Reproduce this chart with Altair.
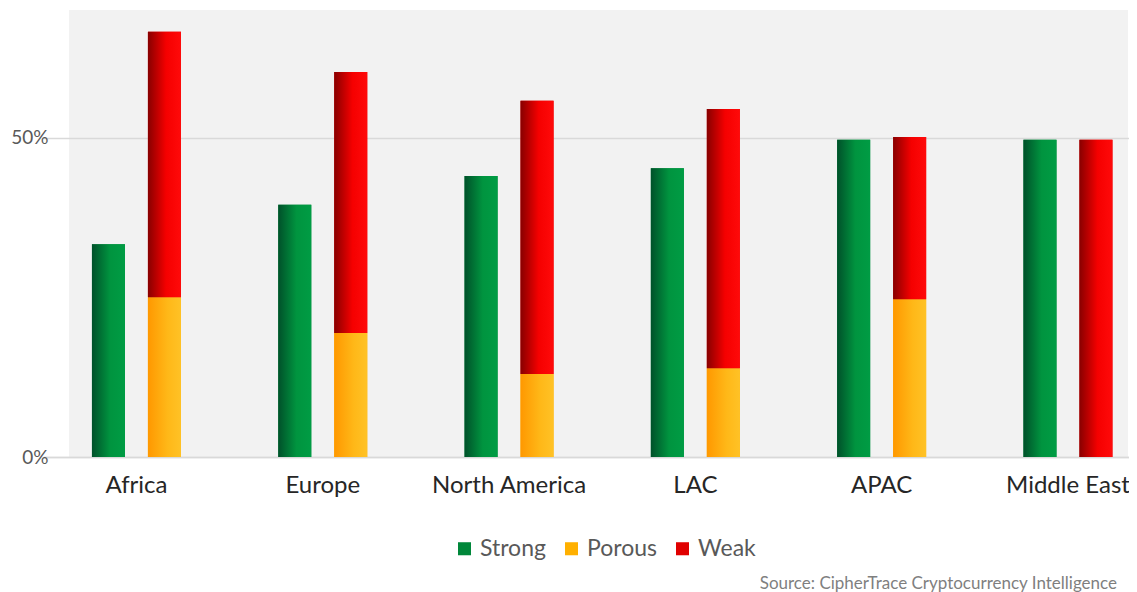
import altair as alt
import pandas as pd

regions = ["Africa", "Europe", "North America", "LAC", "APAC", "Middle East"]
strong = [33.3, 39.5, 44.0, 45.2, 49.7, 49.7]
porous = [25.0, 19.4, 13.0, 13.9, 24.7, 0.0]
weak = [41.6, 40.9, 42.8, 40.6, 25.4, 49.7]
series = ["Strong", "Porous", "Weak"]
legend_colors = ["#00873a", "#ffb000", "#e00000"]
y_ticks = [0, 0.5]
source_text = ["Source: CipherTrace Cryptocurrency Intelligence"]

rows = []
for i, r in enumerate(regions):
    rows.append({"region": r, "slot": "A", "series": "Strong",
                 "y0": 0.0, "y1": strong[i] / 100})
    rows.append({"region": r, "slot": "B", "series": "Porous",
                 "y0": 0.0, "y1": porous[i] / 100})
    rows.append({"region": r, "slot": "B", "series": "Weak",
                 "y0": porous[i] / 100, "y1": (porous[i] + weak[i]) / 100})
df = pd.DataFrame(rows)

W, H = 1059, 447
step = 186.3
x0 = 43.35 - 69
x_scale = alt.Scale(domain=regions, range=[x0, x0 + 6 * step], paddingInner=0, paddingOuter=0)
off_scale = alt.Scale(domain=["A", "B"], range=[48.6, 137.6], paddingInner=0.41, paddingOuter=0)
y_scale = alt.Scale(domain=[0, 0.7], nice=False)

x_enc = alt.X("region:N", scale=x_scale, sort=regions,
              axis=alt.Axis(title=None, labelAngle=0, labelFont="Lato", labelFontSize=24,
                            labelColor="#262626", labelPadding=16, ticks=False,
                            domain=True, domainColor="#d9d9d9", domainWidth=1.5))
off_enc = alt.XOffset("slot:N", scale=off_scale)
y_enc = alt.Y("y1:Q", scale=y_scale,
              axis=alt.Axis(title=None, values=y_ticks, format=".0%", labelFont="Lato",
                            labelFontSize=19, labelColor="#595959", labelPadding=21,
                            ticks=False, domain=False, gridColor="#d9d9d9", gridWidth=1.5))
y2_enc = alt.Y2("y0:Q")

base = alt.Chart(df)

legend_layer = base.mark_bar().encode(
    x=x_enc, xOffset=off_enc, y=y_enc, y2=y2_enc,
    color=alt.Color("series:N", scale=alt.Scale(domain=series, range=legend_colors),
                    legend=alt.Legend(title=None, orient="none", direction="horizontal",
                                      legendX=384, legendY=527, symbolType="square",
                                      symbolSize=170, labelFont="Lato", labelFontSize=23,
                                      labelColor="#595959", columnPadding=14,
                                      labelOffset=4)),
)

def grad(stops):
    return alt.Gradient(gradient="linear", x1=0, x2=1, y1=0, y2=0,
                        stops=[alt.GradientStop(offset=o, color=c) for o, c in stops])

gradients = {
    "Strong": grad([(0, "#00512a"), (0.55, "#00943f"), (1, "#009c44")]),
    "Porous": grad([(0, "#ff9800"), (0.6, "#ffb818"), (1, "#ffc226")]),
    "Weak": grad([(0, "#880000"), (0.55, "#f50000"), (1, "#ff0a0a")]),
}

grad_layers = []
for s in series:
    grad_layers.append(
        base.transform_filter(alt.datum.series == s).mark_bar(fill=gradients[s]).encode(
            x=alt.X("region:N", scale=x_scale, sort=regions),
            xOffset=off_enc,
            y=alt.Y("y1:Q", scale=y_scale), y2=y2_enc,
        )
    )

src = alt.Chart(pd.DataFrame({"t": source_text})).mark_text(
    align="right", baseline="alphabetic", font="Lato", fontSize=17, color="#7f7f7f"
).encode(text="t:N", x=alt.value(1048), y=alt.value(579))

chart = alt.layer(legend_layer, *grad_layers, src).properties(
    width=W, height=H, autosize=alt.AutoSizeParams(type="none"),
    padding={"left": 61, "top": 2, "right": 1, "bottom": 135},
    background="white",
).configure_view(fill="#f2f2f2", strokeWidth=0)

chart.save("out.html", embed_options={"renderer": "svg", "actions": False})
